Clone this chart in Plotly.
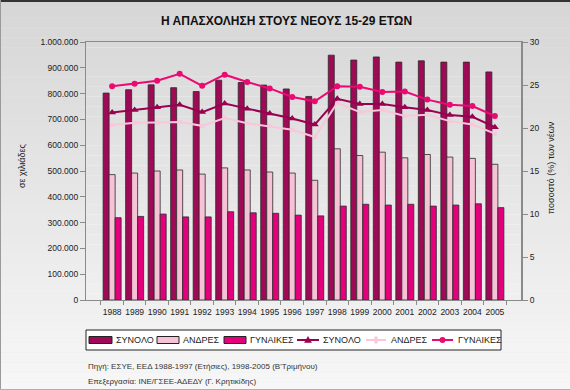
import plotly.graph_objects as go

years = ["1988", "1989", "1990", "1991", "1992", "1993", "1994", "1995", "1996",
         "1997", "1998", "1999", "2000", "2001", "2002", "2003", "2004", "2005"]

total_k = [802000, 815000, 834000, 823000, 808000, 852000, 843000, 833000, 818000,
           789000, 949000, 930000, 942000, 922000, 927000, 922000, 922000, 884000]
men_k = [486000, 492000, 500000, 504000, 488000, 512000, 504000, 496000, 492000,
         464000, 586000, 560000, 573000, 551000, 564000, 554000, 549000, 526000]
women_k = [319000, 324000, 333000, 322000, 322000, 342000, 338000, 336000, 329000,
           326000, 364000, 371000, 368000, 371000, 364000, 368000, 373000, 358000]

total_pct = [21.8, 22.1, 22.4, 22.7, 21.85, 22.85, 22.25, 21.7, 21.1,
             20.4, 23.4, 22.8, 22.8, 22.4, 22.1, 21.5, 21.3, 20.1]
men_pct = [20.35, 20.6, 20.65, 20.7, 20.25, 21.15, 20.55, 20.2, 19.8,
           18.95, 22.9, 21.85, 22.1, 21.4, 21.55, 20.8, 20.4, 19.35]
women_pct = [24.85, 25.15, 25.5, 26.3, 24.9, 26.2, 25.35, 24.6, 23.6,
             23.1, 24.85, 24.8, 24.2, 24.25, 23.3, 22.7, 22.55, 21.4]

left_ticks = [0, 100000, 200000, 300000, 400000, 500000, 600000, 700000, 800000, 900000, 1000000]
right_ticks = [0, 5, 10, 15, 20, 25, 30]

legend_labels = ["ΣΥΝΟΛΟ", "ΑΝΔΡΕΣ", "ΓΥΝΑΙΚΕΣ", "ΣΥΝΟΛΟ", "ΑΝΔΡΕΣ", "ΓΥΝΑΙΚΕΣ"]

C_TOT = "#9e0a55"
C_MEN = "#f6c3d6"
C_WOM = "#e4007c"
C_TOT_L = "#99004f"
C_MEN_L = "#f9c6da"
C_WOM_L = "#ea0a72"

FONT = "Liberation Sans, Arial, sans-serif"

W, H = 570, 390
ML, MR, MT, MB = 86, 49, 42, 90
PW = W - ML - MR
PH = H - MT - MB


def px(x):
    return (x - ML) / PW


def py(y):
    return (H - MB - y) / PH


fig = go.Figure()
outline = dict(color="#2a2a2a", width=0.8)
fig.add_trace(go.Bar(x=years, y=total_k, name=legend_labels[0], marker=dict(color=C_TOT, line=outline)))
fig.add_trace(go.Bar(x=years, y=men_k, name=legend_labels[1], marker=dict(color=C_MEN, line=outline)))
fig.add_trace(go.Bar(x=years, y=women_k, name=legend_labels[2], marker=dict(color=C_WOM, line=outline)))

fig.add_trace(go.Scatter(x=years, y=total_pct, name=legend_labels[3], yaxis="y2", mode="lines+markers",
                         line=dict(color=C_TOT_L, width=2),
                         marker=dict(symbol="triangle-up", size=7, color=C_TOT_L)))
fig.add_trace(go.Scatter(x=years, y=men_pct, name=legend_labels[4], yaxis="y2", mode="lines+markers",
                         line=dict(color=C_MEN_L, width=2),
                         marker=dict(symbol="square", size=4, color=C_MEN_L)))
fig.add_trace(go.Scatter(x=years, y=women_pct, name=legend_labels[5], yaxis="y2", mode="lines+markers",
                         line=dict(color=C_WOM_L, width=2),
                         marker=dict(symbol="circle", size=6, color=C_WOM_L)))

# background gradient bands (paper)
shapes = []
n = 40
top = (214, 214, 214)
bot = (247, 247, 247)
y_top, y_bot = -2, H + 2
for i in range(n):
    t = i / (n - 1)
    col = tuple(int(round(top[k] + (bot[k] - top[k]) * t)) for k in range(3))
    ya = y_top + (y_bot - y_top) * i / n
    yb = y_top + (y_bot - y_top) * (i + 1) / n
    shapes.append(dict(type="rect", xref="paper", yref="paper", layer="below",
                       x0=px(-2), x1=px(W + 2), y0=py(yb), y1=py(ya),
                       fillcolor="rgb(%d,%d,%d)" % col, line=dict(width=0)))
# outer frame
shapes.append(dict(type="line", xref="paper", yref="paper", x0=px(0), x1=px(W), y0=py(1), y1=py(1),
                   line=dict(color="#333333", width=2)))
shapes.append(dict(type="line", xref="paper", yref="paper", x0=px(0.5), x1=px(0.5), y0=py(0), y1=py(H),
                   line=dict(color="#9a9a9a", width=1)))
shapes.append(dict(type="line", xref="paper", yref="paper", x0=px(0), x1=px(W), y0=py(H - 0.5), y1=py(H - 0.5),
                   line=dict(color="#b0b0b0", width=1)))

# legend box
LY0, LY1 = 330, 350
LC = (LY0 + LY1) / 2
shapes.append(dict(type="rect", xref="paper", yref="paper", x0=px(86), x1=px(501), y0=py(LY1), y1=py(LY0),
                   fillcolor="white", line=dict(color="#222", width=1)))
annotations = []
bar_swatches = [(89, 112, C_TOT), (157, 179, C_MEN), (224, 246, C_WOM)]
bar_text_x = [114, 181, 248]
for (a, b, c), tx, lab in zip(bar_swatches, bar_text_x, legend_labels[:3]):
    shapes.append(dict(type="rect", xref="paper", yref="paper", x0=px(a), x1=px(b),
                       y0=py(LC + 3.5), y1=py(LC - 3.5), fillcolor=c, line=dict(color="#222", width=1)))
    annotations.append(dict(text=lab, xref="paper", yref="paper", x=px(tx), y=py(LC), xanchor="left",
                            yanchor="middle", showarrow=False, font=dict(size=9, color="#222")))

line_swatches = [(297, 319, C_TOT_L), (366, 386, C_MEN_L), (432, 453, C_WOM_L)]
line_text_x = [321, 389, 456]
for k, ((a, b, c), tx, lab) in enumerate(zip(line_swatches, line_text_x, legend_labels[3:])):
    shapes.append(dict(type="line", xref="paper", yref="paper", x0=px(a), x1=px(b), y0=py(LC), y1=py(LC),
                       line=dict(color=c, width=2)))
    m = (a + b) / 2
    if k == 0:
        path = "M %f %f L %f %f L %f %f Z" % (px(m - 3.5), py(LC + 2.5), px(m + 3.5), py(LC + 2.5),
                                               px(m), py(LC - 3.5))
        shapes.append(dict(type="path", xref="paper", yref="paper", path=path, fillcolor=c,
                           line=dict(color=c, width=0.5)))
    elif k == 1:
        shapes.append(dict(type="rect", xref="paper", yref="paper", x0=px(m - 1.5), x1=px(m + 1.5),
                           y0=py(LC + 3.5), y1=py(LC - 3.5), fillcolor=c, line=dict(width=0)))
    else:
        shapes.append(dict(type="circle", xref="paper", yref="paper", x0=px(m - 3), x1=px(m + 3),
                           y0=py(LC + 3), y1=py(LC - 3), fillcolor=c, line=dict(width=0)))
    annotations.append(dict(text=lab, xref="paper", yref="paper", x=px(tx), y=py(LC), xanchor="left",
                            yanchor="middle", showarrow=False, font=dict(size=9, color="#222")))

annotations += [
    dict(text="<b>Η ΑΠΑΣΧΟΛΗΣΗ ΣΤΟΥΣ ΝΕΟΥΣ 15-29 ΕΤΩΝ</b>", xref="paper", yref="paper",
         x=px(286), y=py(21), xanchor="center", yanchor="middle", showarrow=False,
         font=dict(size=12, color="#111")),
    dict(text="Πηγή: ΕΣΥΕ, ΕΕΔ 1988-1997 (Ετήσιες), 1998-2005 (Β'Τριμήνου)", xref="paper", yref="paper",
         x=px(86), y=py(366), xanchor="left", yanchor="middle", showarrow=False,
         font=dict(size=8, color="#333")),
    dict(text="Επεξεργασία: ΙΝΕ/ΓΣΕΕ-ΑΔΕΔΥ (Γ. Κρητικίδης)", xref="paper", yref="paper",
         x=px(86), y=py(381), xanchor="left", yanchor="middle", showarrow=False,
         font=dict(size=8, color="#333")),
    dict(text="σε χιλιάδες", xref="paper", yref="paper", x=px(22), y=py(166),
         xanchor="center", yanchor="middle", textangle=-90, showarrow=False,
         font=dict(size=9, color="#222")),
    dict(text="ποσοστό (%) των νέων", xref="paper", yref="paper", x=px(551), y=py(168),
         xanchor="center", yanchor="middle", textangle=-90, showarrow=False,
         font=dict(size=9, color="#222")),
]

fig.update_layout(
    width=W, height=H,
    margin=dict(l=ML, r=MR, t=MT, b=MB),
    paper_bgcolor="#e6e6e6",
    plot_bgcolor="white",
    separators=",.",
    barmode="group",
    bargap=0.2,
    bargroupgap=0.0,
    showlegend=False,
    font=dict(family=FONT, size=9, color="#222"),
    xaxis=dict(type="category", showline=True, linecolor="#8a8a8a", linewidth=1, mirror=True,
               ticks="outside", tickson="boundaries", ticklen=4, tickcolor="#8a8a8a",
               tickangle=0, automargin=False, ticklabelstandoff=4,
               tickfont=dict(size=8.5, color="#222"), showgrid=False),
    yaxis=dict(range=[0, 1000000], tickvals=left_ticks, tickformat=",d", showgrid=False,
               showline=True, linecolor="#8a8a8a", linewidth=1, ticks="outside", ticklen=5,
               tickcolor="#8a8a8a", tickfont=dict(size=8.5, color="#222"), zeroline=False,
               automargin=False),
    yaxis2=dict(range=[0, 30], tickvals=right_ticks, overlaying="y", side="right", showgrid=False,
                showline=True, linecolor="#8a8a8a", linewidth=2, ticks="outside", ticklen=5,
                tickcolor="#8a8a8a", tickfont=dict(size=8.5, color="#222"), zeroline=False,
                automargin=False),
    shapes=shapes,
    annotations=annotations,
)

fig.write_html("out.html",
               config={"displayModeBar": False},
               post_script="document.body.style.margin='0';document.body.style.padding='0';"
                           "document.documentElement.style.overflow='hidden';")
